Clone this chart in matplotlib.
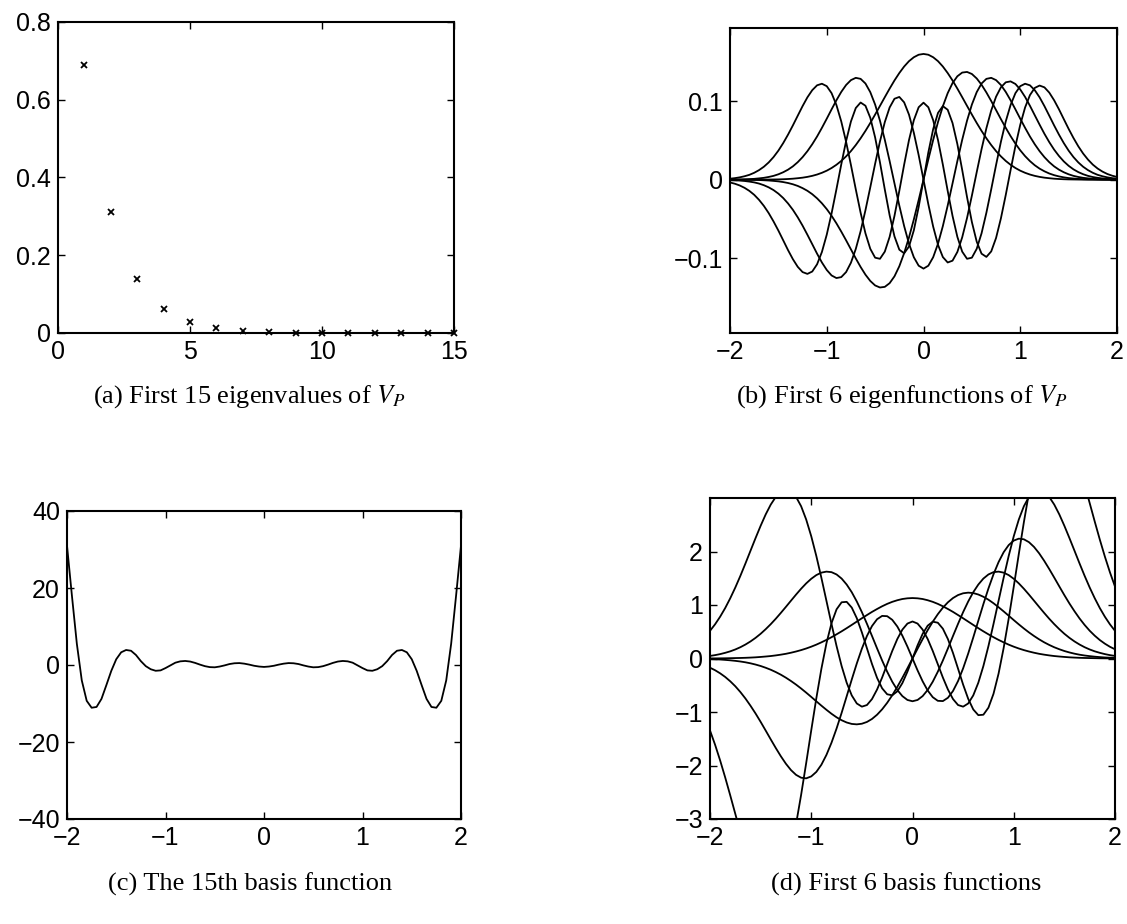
import matplotlib
matplotlib.use('Agg')
import matplotlib.pyplot as plt

plt.rcParams['font.family'] = ['Liberation Sans', 'DejaVu Sans']
plt.rcParams['mathtext.fontset'] = 'stix'

# (a) first 15 eigenvalues
eig_index = [1, 2, 3, 4, 5, 6, 7, 8, 9, 10, 11, 12, 13, 14, 15]
eig_values = [0.689, 0.311, 0.140, 0.063, 0.028, 0.012, 0.005, 0.0023, 0.001,
              0.0005, 0.0002, 0.0001, 0.00005, 0.00002, 0.00001]

# sample positions shared by panels (b), (c), (d)
xs = [-2.00, -1.95, -1.90, -1.85, -1.80, -1.75, -1.70, -1.65, -1.60, -1.55,
      -1.50, -1.45, -1.40, -1.35, -1.30, -1.25, -1.20, -1.15, -1.10, -1.05,
      -1.00, -0.95, -0.90, -0.85, -0.80, -0.75, -0.70, -0.65, -0.60, -0.55,
      -0.50, -0.45, -0.40, -0.35, -0.30, -0.25, -0.20, -0.15, -0.10, -0.05,
      0.00,
      0.05, 0.10, 0.15, 0.20, 0.25, 0.30, 0.35, 0.40, 0.45, 0.50,
      0.55, 0.60, 0.65, 0.70, 0.75, 0.80, 0.85, 0.90, 0.95, 1.00,
      1.05, 1.10, 1.15, 1.20, 1.25, 1.30, 1.35, 1.40, 1.45, 1.50,
      1.55, 1.60, 1.65, 1.70, 1.75, 1.80, 1.85, 1.90, 1.95, 2.00]

# (b) first 6 eigenfunctions
eigf0 = [0.0000, 0.0000, 0.0000, 0.0000, 0.0000, 0.0001, 0.0001, 0.0001, 0.0002, 0.0003,
         0.0004, 0.0006, 0.0009, 0.0013, 0.0019, 0.0026, 0.0036, 0.0049, 0.0066, 0.0088,
         0.0115, 0.0149, 0.0190, 0.0239, 0.0297, 0.0364, 0.0441, 0.0527, 0.0621, 0.0722,
         0.0829, 0.0939, 0.1050, 0.1159, 0.1263, 0.1357, 0.1440, 0.1508, 0.1558, 0.1590,
         0.1600,
         0.1590, 0.1558, 0.1508, 0.1440, 0.1357, 0.1263, 0.1159, 0.1050, 0.0939, 0.0829,
         0.0722, 0.0621, 0.0527, 0.0441, 0.0364, 0.0297, 0.0239, 0.0190, 0.0149, 0.0115,
         0.0088, 0.0066, 0.0049, 0.0036, 0.0026, 0.0019, 0.0013, 0.0009, 0.0006, 0.0004,
         0.0003, 0.0002, 0.0001, 0.0001, 0.0001, 0.0000, 0.0000, 0.0000, 0.0000, 0.0000]
eigf1 = [-0.0000, -0.0000, -0.0001, -0.0001, -0.0002, -0.0003, -0.0004, -0.0007, -0.0010, -0.0015,
         -0.0021, -0.0030, -0.0042, -0.0058, -0.0079, -0.0107, -0.0141, -0.0184, -0.0237, -0.0300,
         -0.0374, -0.0459, -0.0555, -0.0660, -0.0771, -0.0886, -0.1001, -0.1110, -0.1208, -0.1288,
         -0.1345, -0.1371, -0.1363, -0.1316, -0.1229, -0.1101, -0.0934, -0.0734, -0.0506, -0.0258,
         0.0,
         0.0258, 0.0506, 0.0734, 0.0934, 0.1101, 0.1229, 0.1316, 0.1363, 0.1371, 0.1345,
         0.1288, 0.1208, 0.1110, 0.1001, 0.0886, 0.0771, 0.0660, 0.0555, 0.0459, 0.0374,
         0.0300, 0.0237, 0.0184, 0.0141, 0.0107, 0.0079, 0.0058, 0.0042, 0.0030, 0.0021,
         0.0015, 0.0010, 0.0007, 0.0004, 0.0003, 0.0002, 0.0001, 0.0001, 0.0000, 0.0000]
eigf2 = [0.0001, 0.0002, 0.0003, 0.0005, 0.0008, 0.0011, 0.0017, 0.0024, 0.0035, 0.0049,
         0.0069, 0.0095, 0.0128, 0.0170, 0.0223, 0.0287, 0.0363, 0.0451, 0.0550, 0.0660,
         0.0776, 0.0895, 0.1011, 0.1117, 0.1205, 0.1267, 0.1296, 0.1283, 0.1224, 0.1114,
         0.0956, 0.0751, 0.0508, 0.0237, -0.0047, -0.0329, -0.0590, -0.0814, -0.0986, -0.1094,
         -0.1131,
         -0.1094, -0.0986, -0.0814, -0.0590, -0.0329, -0.0047, 0.0237, 0.0508, 0.0751, 0.0956,
         0.1114, 0.1224, 0.1283, 0.1296, 0.1267, 0.1205, 0.1117, 0.1011, 0.0895, 0.0776,
         0.0660, 0.0550, 0.0451, 0.0363, 0.0287, 0.0223, 0.0170, 0.0128, 0.0095, 0.0069,
         0.0049, 0.0035, 0.0024, 0.0017, 0.0011, 0.0008, 0.0005, 0.0003, 0.0002, 0.0001]
eigf3 = [-0.0005, -0.0007, -0.0011, -0.0016, -0.0024, -0.0034, -0.0049, -0.0070, -0.0097, -0.0132,
         -0.0177, -0.0233, -0.0302, -0.0383, -0.0478, -0.0584, -0.0700, -0.0820, -0.0941, -0.1053,
         -0.1148, -0.1218, -0.1251, -0.1239, -0.1175, -0.1056, -0.0881, -0.0655, -0.0388, -0.0096,
         0.0203, 0.0487, 0.0733, 0.0919, 0.1030, 0.1053, 0.0984, 0.0828, 0.0597, 0.0313,
         0.0,
         -0.0313, -0.0597, -0.0828, -0.0984, -0.1053, -0.1030, -0.0919, -0.0733, -0.0487, -0.0203,
         0.0096, 0.0388, 0.0655, 0.0881, 0.1056, 0.1175, 0.1239, 0.1251, 0.1218, 0.1148,
         0.1053, 0.0941, 0.0820, 0.0700, 0.0584, 0.0478, 0.0383, 0.0302, 0.0233, 0.0177,
         0.0132, 0.0097, 0.0070, 0.0049, 0.0034, 0.0024, 0.0016, 0.0011, 0.0007, 0.0005]
eigf4 = [0.0013, 0.0020, 0.0030, 0.0044, 0.0062, 0.0088, 0.0122, 0.0165, 0.0220, 0.0288,
         0.0370, 0.0466, 0.0574, 0.0691, 0.0814, 0.0936, 0.1048, 0.1139, 0.1201, 0.1221,
         0.1190, 0.1101, 0.0950, 0.0741, 0.0482, 0.0187, -0.0122, -0.0420, -0.0682, -0.0879,
         -0.0992, -0.1006, -0.0915, -0.0727, -0.0460, -0.0142, 0.0192, 0.0504, 0.0757, 0.0922,
         0.0980,
         0.0922, 0.0757, 0.0504, 0.0192, -0.0142, -0.0460, -0.0727, -0.0915, -0.1006, -0.0992,
         -0.0879, -0.0682, -0.0420, -0.0122, 0.0187, 0.0482, 0.0741, 0.0950, 0.1101, 0.1190,
         0.1221, 0.1201, 0.1139, 0.1048, 0.0936, 0.0814, 0.0691, 0.0574, 0.0466, 0.0370,
         0.0288, 0.0220, 0.0165, 0.0122, 0.0088, 0.0062, 0.0044, 0.0030, 0.0020, 0.0013]
eigf5 = [-0.0035, -0.0051, -0.0073, -0.0103, -0.0142, -0.0192, -0.0256, -0.0333, -0.0425, -0.0531,
         -0.0647, -0.0771, -0.0896, -0.1011, -0.1108, -0.1175, -0.1198, -0.1168, -0.1076, -0.0919,
         -0.0699, -0.0428, -0.0122, 0.0195, 0.0492, 0.0741, 0.0912, 0.0982, 0.0941, 0.0788,
         0.0538, 0.0221, -0.0124, -0.0453, -0.0721, -0.0890, -0.0936, -0.0850, -0.0644, -0.0347,
         0.0,
         0.0347, 0.0644, 0.0850, 0.0936, 0.0890, 0.0721, 0.0453, 0.0124, -0.0221, -0.0538,
         -0.0788, -0.0941, -0.0982, -0.0912, -0.0741, -0.0492, -0.0195, 0.0122, 0.0428, 0.0699,
         0.0919, 0.1076, 0.1168, 0.1198, 0.1175, 0.1108, 0.1011, 0.0896, 0.0771, 0.0647,
         0.0531, 0.0425, 0.0333, 0.0256, 0.0192, 0.0142, 0.0103, 0.0073, 0.0051, 0.0035]

# (c) the 15th basis function
basis15 = [31.0, 18.0, 5.5, -4.0, -9.3, -11.1, -10.9, -8.8, -5.2, -1.5,
           1.5, 3.3, 3.9, 3.7, 2.6, 1.0, -0.3, -1.1, -1.5, -1.4,
           -0.8, -0.1, 0.6, 0.95, 1.05, 0.9, 0.55, 0.1, -0.3, -0.55,
           -0.6, -0.4, -0.1, 0.25, 0.45, 0.5, 0.35, 0.1, -0.2, -0.4,
           -0.5,
           -0.4, -0.2, 0.1, 0.35, 0.5, 0.45, 0.25, -0.1, -0.4, -0.6,
           -0.55, -0.3, 0.1, 0.55, 0.9, 1.05, 0.95, 0.6, -0.1, -0.8,
           -1.4, -1.5, -1.1, -0.3, 1.0, 2.6, 3.7, 3.9, 3.3, 1.5,
           -1.5, -5.2, -8.8, -10.9, -11.1, -9.3, -4.0, 5.5, 18.0, 31.0]

# (d) first 6 basis functions
basis0 = [0.002, 0.002, 0.003, 0.004, 0.006, 0.008, 0.010, 0.013, 0.017, 0.022,
          0.029, 0.037, 0.046, 0.058, 0.072, 0.088, 0.108, 0.131, 0.157, 0.187,
          0.221, 0.259, 0.302, 0.348, 0.398, 0.452, 0.508, 0.567, 0.628, 0.690,
          0.752, 0.812, 0.871, 0.925, 0.976, 1.021, 1.059, 1.089, 1.112, 1.125,
          1.130,
          1.125, 1.112, 1.089, 1.059, 1.021, 0.976, 0.925, 0.871, 0.812, 0.752,
          0.690, 0.628, 0.567, 0.508, 0.452, 0.398, 0.348, 0.302, 0.259, 0.221,
          0.187, 0.157, 0.131, 0.108, 0.088, 0.072, 0.058, 0.046, 0.037, 0.029,
          0.022, 0.017, 0.013, 0.010, 0.008, 0.006, 0.004, 0.003, 0.002, 0.002]
basis1 = [-0.011, -0.015, -0.019, -0.026, -0.034, -0.044, -0.056, -0.071, -0.090, -0.113,
          -0.140, -0.173, -0.210, -0.254, -0.303, -0.359, -0.421, -0.488, -0.561, -0.638,
          -0.718, -0.800, -0.881, -0.959, -1.033, -1.099, -1.154, -1.196, -1.223, -1.231,
          -1.219, -1.186, -1.130, -1.051, -0.950, -0.828, -0.687, -0.530, -0.361, -0.183,
          0.0,
          0.183, 0.361, 0.530, 0.687, 0.828, 0.950, 1.051, 1.130, 1.186, 1.219,
          1.231, 1.223, 1.196, 1.154, 1.099, 1.033, 0.959, 0.881, 0.800, 0.718,
          0.638, 0.561, 0.488, 0.421, 0.359, 0.303, 0.254, 0.210, 0.173, 0.140,
          0.113, 0.090, 0.071, 0.056, 0.044, 0.034, 0.026, 0.019, 0.015, 0.011]
basis2 = [0.048, 0.063, 0.082, 0.106, 0.134, 0.169, 0.211, 0.261, 0.319, 0.386,
          0.462, 0.548, 0.642, 0.744, 0.853, 0.966, 1.081, 1.195, 1.304, 1.404,
          1.490, 1.559, 1.605, 1.624, 1.614, 1.571, 1.494, 1.382, 1.239, 1.065,
          0.867, 0.649, 0.421, 0.189, -0.037, -0.247, -0.434, -0.588, -0.703, -0.775,
          -0.799,
          -0.775, -0.703, -0.588, -0.434, -0.247, -0.037, 0.189, 0.421, 0.649, 0.867,
          1.065, 1.239, 1.382, 1.494, 1.571, 1.614, 1.624, 1.605, 1.559, 1.490,
          1.404, 1.304, 1.195, 1.081, 0.966, 0.853, 0.744, 0.642, 0.548, 0.462,
          0.386, 0.319, 0.261, 0.211, 0.169, 0.134, 0.106, 0.082, 0.063, 0.048]
basis3 = [-0.172, -0.219, -0.277, -0.345, -0.426, -0.519, -0.627, -0.748, -0.883, -1.028,
          -1.184, -1.347, -1.512, -1.674, -1.828, -1.968, -2.086, -2.175, -2.228, -2.240,
          -2.204, -2.120, -1.986, -1.802, -1.574, -1.309, -1.016, -0.706, -0.393, -0.092,
          0.184, 0.421, 0.607, 0.734, 0.796, 0.791, 0.723, 0.598, 0.426, 0.222,
          0.0,
          -0.222, -0.426, -0.598, -0.723, -0.791, -0.796, -0.734, -0.607, -0.421, -0.184,
          0.092, 0.393, 0.706, 1.016, 1.309, 1.574, 1.802, 1.986, 2.120, 2.204,
          2.240, 2.228, 2.175, 2.086, 1.968, 1.828, 1.674, 1.512, 1.347, 1.184,
          1.028, 0.883, 0.748, 0.627, 0.519, 0.426, 0.345, 0.277, 0.219, 0.172]
basis4 = [0.517, 0.639, 0.781, 0.943, 1.126, 1.327, 1.545, 1.776, 2.014, 2.251,
          2.480, 2.693, 2.877, 3.021, 3.117, 3.153, 3.125, 3.020, 2.846, 2.598,
          2.285, 1.917, 1.509, 1.078, 0.645, 0.232, -0.141, -0.453, -0.690, -0.841,
          -0.900, -0.870, -0.758, -0.580, -0.356, -0.107, 0.141, 0.364, 0.540, 0.653,
          0.692,
          0.653, 0.540, 0.364, 0.141, -0.107, -0.356, -0.580, -0.758, -0.870, -0.900,
          -0.841, -0.690, -0.453, -0.141, 0.232, 0.645, 1.078, 1.509, 1.917, 2.285,
          2.598, 2.846, 3.020, 3.125, 3.153, 3.117, 3.021, 2.877, 2.693, 2.480,
          2.251, 2.014, 1.776, 1.545, 1.327, 1.126, 0.943, 0.781, 0.639, 0.517]
basis5 = [-1.345, -1.611, -1.905, -2.223, -2.559, -2.905, -3.250, -3.581, -3.884, -4.140,
          -4.338, -4.459, -4.490, -4.419, -4.242, -3.958, -3.571, -3.095, -2.548, -1.954,
          -1.342, -0.745, -0.194, 0.283, 0.660, 0.919, 1.051, 1.059, 0.952, 0.753,
          0.488, 0.191, -0.103, -0.362, -0.557, -0.669, -0.688, -0.614, -0.460, -0.246,
          0.0,
          0.246, 0.460, 0.614, 0.688, 0.669, 0.557, 0.362, 0.103, -0.191, -0.488,
          -0.753, -0.952, -1.059, -1.051, -0.919, -0.660, -0.283, 0.194, 0.745, 1.342,
          1.954, 2.548, 3.095, 3.571, 3.958, 4.242, 4.419, 4.490, 4.459, 4.338,
          4.140, 3.884, 3.581, 3.250, 2.905, 2.559, 2.223, 1.905, 1.611, 1.345]

M = '\u2212'
captions = ['(a) First 15 eigenvalues of $V_P$',
            '(b) First 6 eigenfunctions of $V_P$',
            '(c) The 15th basis function',
            '(d) First 6 basis functions']

fig = plt.figure(figsize=(11.27, 9.24), dpi=100)
W, H = 1127.0, 924.0

def make_axes(left, right, top, bottom):
    ax = fig.add_axes([left / W, 1 - bottom / H, (right - left) / W, (bottom - top) / H])
    ax.tick_params(direction='in', length=5, width=1, top=True, right=True,
                   labelsize=18, pad=5)
    for sp in ax.spines.values():
        sp.set_linewidth(1.5)
    return ax

lw = 1.3

# (a)
ax1 = make_axes(58, 454, 22, 333)
ax1.plot(eig_index, eig_values, 'x', color='black', markersize=4.5, mew=1.3, clip_on=False)
ax1.set_xlim(0, 15)
ax1.set_ylim(0, 0.8)
ax1.set_xticks([0, 5, 10, 15])
ax1.set_xticklabels(['0', '5', '10', '15'])
ax1.set_yticks([0, 0.2, 0.4, 0.6, 0.8])
ax1.set_yticklabels(['0', '0.2', '0.4', '0.6', '0.8'])

# (b)
ax2 = make_axes(730, 1117, 28, 333)
for ys in [eigf0, eigf1, eigf2, eigf3, eigf4, eigf5]:
    ax2.plot(xs, ys, color='black', lw=lw)
ax2.set_xlim(-2, 2)
ax2.set_ylim(-0.195, 0.193)
ax2.set_xticks([-2, -1, 0, 1, 2])
ax2.set_xticklabels([M + '2', M + '1', '0', '1', '2'])
ax2.set_yticks([-0.1, 0, 0.1])
ax2.set_yticklabels([M + '0.1', '0', '0.1'])

# (c)
ax3 = make_axes(67, 461, 511, 819)
ax3.plot(xs, basis15, color='black', lw=lw)
ax3.set_xlim(-2, 2)
ax3.set_ylim(-40, 40)
ax3.set_xticks([-2, -1, 0, 1, 2])
ax3.set_xticklabels([M + '2', M + '1', '0', '1', '2'])
ax3.set_yticks([-40, -20, 0, 20, 40])
ax3.set_yticklabels([M + '40', M + '20', '0', '20', '40'])

# (d)
ax4 = make_axes(710, 1115, 498, 819)
for ys in [basis0, basis1, basis2, basis3, basis4, basis5]:
    ax4.plot(xs, ys, color='black', lw=lw)
ax4.set_xlim(-2, 2)
ax4.set_ylim(-3, 3)
ax4.set_xticks([-2, -1, 0, 1, 2])
ax4.set_xticklabels([M + '2', M + '1', '0', '1', '2'])
ax4.set_yticks([-3, -2, -1, 0, 1, 2])
ax4.set_yticklabels([M + '3', M + '2', M + '1', '0', '1', '2'])

# captions under each panel
cap_font = dict(fontsize=19, family=['Liberation Serif', 'DejaVu Serif'], ha='center', va='center')
fig.text(249 / W, 1 - 397 / H, captions[0], **cap_font)
fig.text(902 / W, 1 - 397 / H, captions[1], **cap_font)
fig.text(250 / W, 1 - 884 / H, captions[2], **cap_font)
fig.text(906 / W, 1 - 884 / H, captions[3], **cap_font)

fig.savefig('out.png', dpi=100)
